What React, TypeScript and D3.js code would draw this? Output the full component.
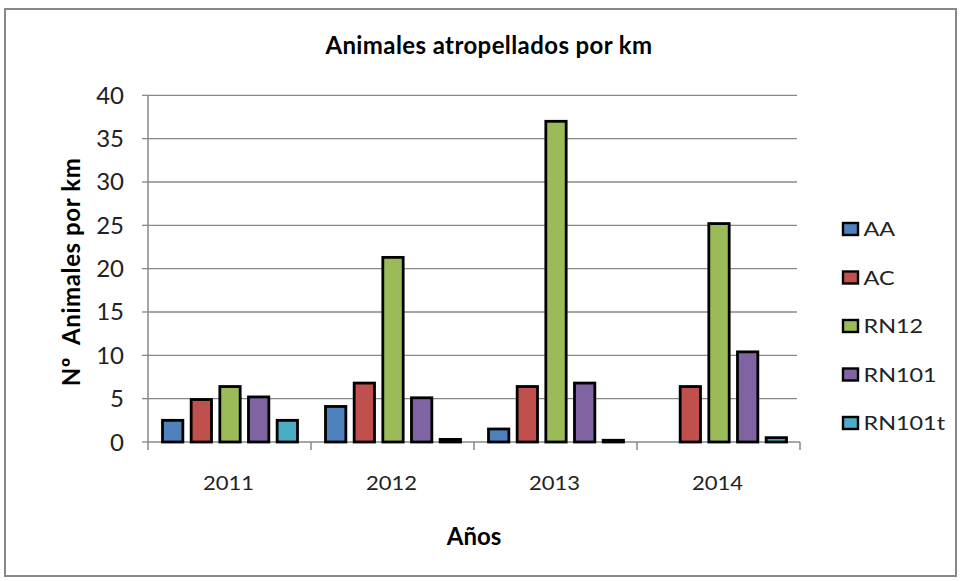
import React from "react";
import * as d3 from "d3";

const years = ["2011", "2012", "2013", "2014"];
const seriesNames = ["AA", "AC", "RN12", "RN101", "RN101t"];
const AA = [2.5, 4.1, 1.5, 0];
const AC = [4.9, 6.8, 6.4, 6.4];
const RN12 = [6.4, 21.3, 37.0, 25.2];
const RN101 = [5.2, 5.1, 6.8, 10.4];
const RN101t = [2.5, 0.3, 0.2, 0.5];
const seriesValues = [AA, AC, RN12, RN101, RN101t];
const colors = ["#4F81BD", "#C0504D", "#9BBB59", "#8064A2", "#4BACC6"];
const yTicks = [0, 5, 10, 15, 20, 25, 30, 35, 40];

const FONT = "Lato, 'Open Sans', sans-serif";

export default function App() {
  const W = 961, H = 581;
  const left = 148, right = 800, top = 95.3, bottom = 442;
  const x = d3.scaleBand<string>().domain(years).range([left, right]).padding(0);
  const y = d3.scaleLinear().domain([0, 40]).range([bottom, top]);
  const inner = d3
    .scaleBand<string>()
    .domain(seriesNames)
    .range([14.5, x.bandwidth() - 13.5])
    .paddingInner(0.29);
  const legendY = d3.scaleLinear().domain([0, 4]).range([229, 423]);

  return (
    <svg
      width={W}
      height={H}
      style={{ position: "absolute", left: 0, top: 0, background: "#fff" }}
      fontFamily={FONT}
    >
      <rect x={5} y={9} width={951} height={567} fill="#fff" stroke="#888" strokeWidth={2} />
      <text x={489} y={54} textAnchor="middle" fontSize={24} fontWeight={700} letterSpacing={0.4} fill="#000">
        Animales atropellados por km
      </text>
      {yTicks.map((t) => (
        <g key={t}>
          {t > 0 && (
            <line x1={left} x2={right - 3} y1={y(t)} y2={y(t)} stroke="#888" strokeWidth={1.3} />
          )}
          <line x1={left - 6} x2={left} y1={y(t)} y2={y(t)} stroke="#888" strokeWidth={1.3} />
          <text x={124} y={y(t) + 8.5} textAnchor="end" fontSize={24} fill="#222">
            {t}
          </text>
        </g>
      ))}
      <line x1={left} x2={left} y1={top} y2={bottom + 8} stroke="#888" strokeWidth={1.5} />
      <line x1={left} x2={right} y1={bottom} y2={bottom} stroke="#888" strokeWidth={1.5} />
      {years.map((yr, i) => (
        <g key={yr}>
          <line
            x1={x(yr)! + x.bandwidth()}
            x2={x(yr)! + x.bandwidth()}
            y1={bottom}
            y2={bottom + 8}
            stroke="#888"
            strokeWidth={1.5}
          />
          <g transform={`translate(${x(yr)! + x.bandwidth() / 2 - 1},490) scale(1.13,1)`}>
            <text x={0} y={0} textAnchor="middle" fontSize={19.5} fill="#222">
              {yr}
            </text>
          </g>
          {seriesNames.map((s, j) => {
            const v = seriesValues[j][i];
            if (v <= 0) return null;
            const bx = x(yr)! + inner(s)!;
            return (
              <rect
                key={s}
                x={bx}
                y={y(v)}
                width={inner.bandwidth()}
                height={bottom - y(v)}
                fill={colors[j]}
                stroke="#000"
                strokeWidth={2.8}
              />
            );
          })}
        </g>
      ))}
      <text
        transform={`translate(80,272) rotate(-90)`}
        textAnchor="middle"
        fontSize={24}
        fontWeight={700}
        letterSpacing={0.6}
        fill="#000"
        style={{ whiteSpace: "pre" }}
      >
        {"Nº  Animales por km"}
      </text>
      <text x={474} y={545} textAnchor="middle" fontSize={24} fontWeight={700} fill="#000">
        Años
      </text>
      {seriesNames.map((s, j) => (
        <g key={s} transform={`translate(0,${legendY(j)})`}>
          <rect x={843} y={-6} width={15} height={12} fill={colors[j]} stroke="#000" strokeWidth={2.4} />
          <g transform="translate(863.5,7) scale(1.2,1)">
            <text x={0} y={0} fontSize={19.5} fill="#222">
              {s}
            </text>
          </g>
        </g>
      ))}
    </svg>
  );
}
